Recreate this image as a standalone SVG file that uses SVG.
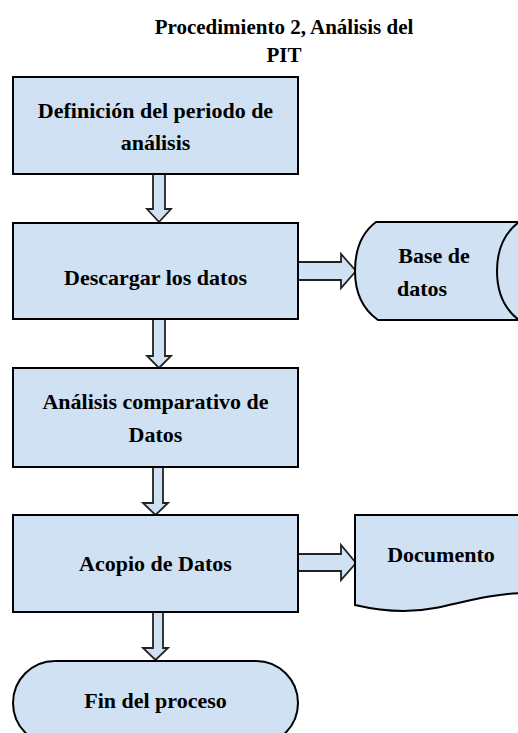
<svg xmlns="http://www.w3.org/2000/svg" width="518" height="733" viewBox="0 0 518 733">
<style>
.box{fill:#cfe1f2;stroke:#000;stroke-width:2}
.arr{fill:#cfe1f2;stroke:#222;stroke-width:1.8;stroke-linejoin:miter}
</style>
<rect width="518" height="733" fill="#fff"/>
<g id="title" font-family="Liberation Serif" font-weight="bold" font-size="21" text-anchor="middle" fill="#000">
<text x="284" y="34">Procedimiento 2, Análisis del</text>
<text x="284" y="62">PIT</text>
</g>
<g id="connectors">
<path class="arr" d="M153,174 V209 H147 L159,222 L171,209 H165 V174"/>
<path class="arr" d="M153,319 V356 H147 L159,368 L171,356 H165 V319"/>
<path class="arr" d="M153,467 V503 H143 L155.5,515 L168,503 H163 V467"/>
<path class="arr" d="M153,612 V648 H143 L155.5,660 L168,648 H163 V612"/>
<path class="arr" d="M298,262 H341 V254 L356,271 L341,288 V280 H298"/>
<path class="arr" d="M298,554 H341 V545 L356,563 L341,580 V571 H298"/>
</g>
<g id="n1" font-family="Liberation Serif" font-weight="bold" font-size="22" text-anchor="middle" fill="#000">
<rect class="box" x="13" y="77" width="285" height="97"/>
<text x="155.5" y="118">Definición del periodo de</text>
<text x="155.5" y="150">análisis</text>
</g>
<g id="n2" font-family="Liberation Serif" font-weight="bold" font-size="22" text-anchor="middle" fill="#000">
<rect class="box" x="13" y="223" width="285" height="96"/>
<text x="155.5" y="285">Descargar los datos</text>
</g>
<g id="n3" font-family="Liberation Serif" font-weight="bold" font-size="22" text-anchor="middle" fill="#000">
<path class="box" d="M376,222 H522 V320 H378 C361,308 355,290 355,271 C355,252 360,234 376,222 Z"/>
<path d="M519,222 C503,234 497,252 497,271 C497,290 503,308 519,320" fill="none" stroke="#000" stroke-width="2"/>
<text x="434" y="263">Base de</text>
<text x="422" y="296">datos</text>
</g>
<g id="n4" font-family="Liberation Serif" font-weight="bold" font-size="22" text-anchor="middle" fill="#000">
<rect class="box" x="13" y="368" width="285" height="99"/>
<text x="155.5" y="409">Análisis comparativo de</text>
<text x="155.5" y="442">Datos</text>
</g>
<g id="n5" font-family="Liberation Serif" font-weight="bold" font-size="22" text-anchor="middle" fill="#000">
<rect class="box" x="13" y="515" width="285" height="97"/>
<text x="155.5" y="571">Acopio de Datos</text>
</g>
<g id="n6" font-family="Liberation Serif" font-weight="bold" font-size="22" text-anchor="middle" fill="#000">
<path class="box" d="M355,515 H522 V593 C490,594 465,602 435,608 C410,613 385,612 355,605 Z"/>
<text x="441" y="562">Documento</text>
</g>
<g id="n7" font-family="Liberation Serif" font-weight="bold" font-size="22" text-anchor="middle" fill="#000">
<path class="box" d="M55,661 H256 A42,42 0 0 1 298,703 A42,42 0 0 1 256,745 H55 A42,42 0 0 1 13,703 A42,42 0 0 1 55,661 Z"/>
<text x="155.5" y="708">Fin del proceso</text>
</g>
</svg>
